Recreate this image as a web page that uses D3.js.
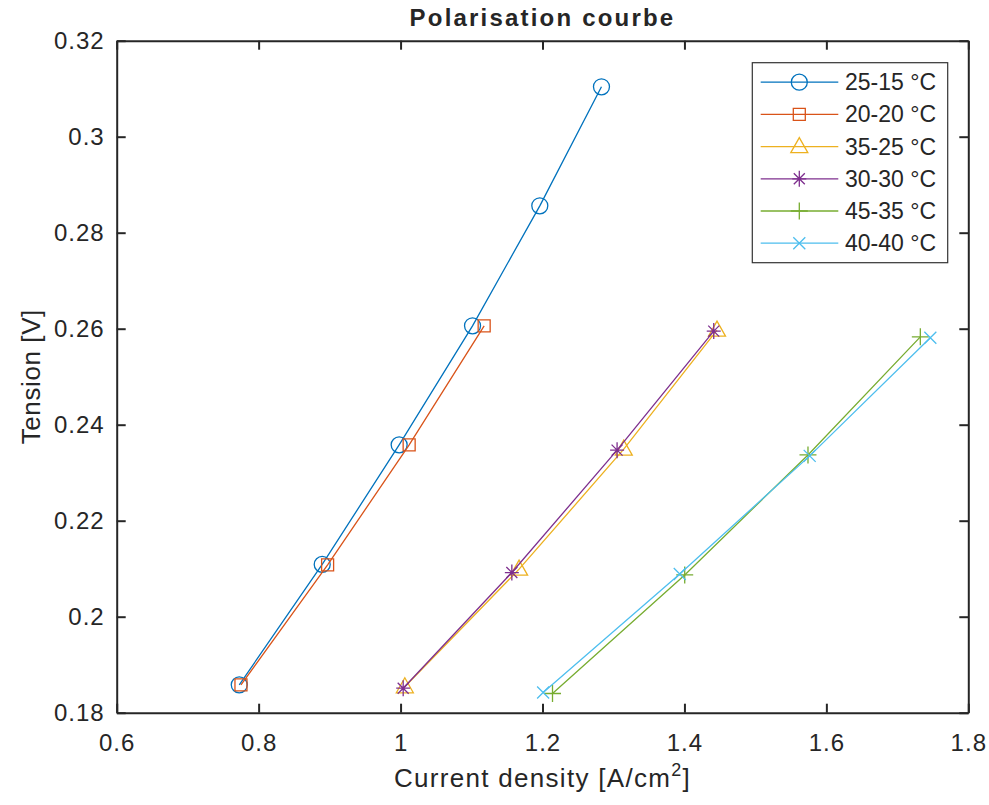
<!DOCTYPE html>
<html>
<head>
<meta charset="utf-8">
<script src="https://cdn.jsdelivr.net/npm/d3@7"></script>
<style>
  body { margin: 0; background: #fff; }
  text { font-family: "Liberation Sans", Arial, sans-serif; fill: #262626; }
</style>
</head>
<body>
<div id="chart"></div>
<script>
const width = 989;
const height = 805;
const marginTop = 40.7;
const marginRight = 20.7;
const marginBottom = 92.3;
const marginLeft = 116.7;

// Data
const seriesNames = ['25-15 °C', '20-20 °C', '35-25 °C', '30-30 °C', '45-35 °C', '40-40 °C'];
const colors = ['#0072BD', '#D95319', '#EDB120', '#7E2F8E', '#77AC30', '#4DBEEE'];
const markers = ['circle', 'square', 'triangle', 'asterisk', 'plus', 'cross'];

const x2515 = [0.7727, 0.8896, 0.998, 1.1014, 1.1962, 1.2831];
const y2515 = [0.1858, 0.2109, 0.2358, 0.2606, 0.2856, 0.3104];
const x2020 = [0.7751, 0.8972, 1.0121, 1.1178];
const y2020 = [0.1858, 0.2108, 0.2358, 0.2606];
const x3525 = [1.006, 1.167, 1.3145, 1.4459];
const y3525 = [0.1854, 0.2099, 0.2349, 0.2597];
const x3030 = [1.0037, 1.1568, 1.3051, 1.4413];
const y3030 = [0.1851, 0.2092, 0.2347, 0.2595];
const x4535 = [1.2141, 1.4004, 1.5741, 1.7324];
const y4535 = [0.184, 0.2087, 0.2337, 0.2583];
const x4040 = [1.2009, 1.3934, 1.5765, 1.7465];
const y4040 = [0.1842, 0.2089, 0.2335, 0.2581];

const xTicks = [0.6, 0.8, 1, 1.2, 1.4, 1.6, 1.8];
const yTicks = [0.18, 0.2, 0.22, 0.24, 0.26, 0.28, 0.3, 0.32];

const xs = [x2515, x2020, x3525, x3030, x4535, x4040];
const ys = [y2515, y2020, y3525, y3030, y4535, y4040];
const series = seriesNames.map((name, i) => ({
  name, color: colors[i], marker: markers[i],
  points: xs[i].map((v, j) => ({ x: v, y: ys[i][j] }))
}));

// Scales
const x = d3.scaleLinear().domain([0.6, 1.8]).range([marginLeft, width - marginRight]);
const y = d3.scaleLinear().domain([0.18, 0.32]).range([height - marginBottom, marginTop]);

const svg = d3.select('#chart')
  .append('svg')
  .attr('width', width)
  .attr('height', height);

// Marker paths (MATLAB style, hollow)
function markerPath(type) {
  switch (type) {
    case 'circle': return d3.arc()({ innerRadius: 0, outerRadius: 8, startAngle: 0, endAngle: 2 * Math.PI });
    case 'square': return 'M-6,-6H6V6H-6Z';
    case 'triangle': return 'M0,-9L8.5,6L-8.5,6Z';
    case 'asterisk': return 'M0,-8V8M-7,0H7M-5.5,-5.5L5.5,5.5M-5.5,5.5L5.5,-5.5';
    case 'plus': return 'M0,-8.5V8.5M-8.5,0H8.5';
    case 'cross': return 'M-6,-6L6,6M-6,6L6,-6';
  }
}

const line = d3.line().x(d => x(d.x)).y(d => y(d.y));

// Lines and markers
const g = svg.selectAll('.series')
  .data(series)
  .enter()
  .append('g')
  .attr('class', 'series');

g.append('path')
  .attr('d', d => line(d.points))
  .attr('fill', 'none')
  .attr('stroke', d => d.color)
  .attr('stroke-width', 1.3);

g.each(function (s) {
  d3.select(this).selectAll('.mk')
    .data(s.points)
    .enter()
    .append('path')
    .attr('class', 'mk')
    .attr('transform', d => `translate(${x(d.x)},${y(d.y)})`)
    .attr('d', markerPath(s.marker))
    .attr('fill', 'none')
    .attr('stroke', s.color)
    .attr('stroke-width', 1.3);
});

// Axes (box with mirrored ticks)
const axisColor = '#262626';
function styleAxis(sel) {
  sel.select('.domain').attr('stroke', axisColor).attr('stroke-width', 2);
  sel.selectAll('.tick line').attr('stroke', axisColor).attr('stroke-width', 2);
  sel.selectAll('.tick text')
    .style('font-size', '24px')
    .style('letter-spacing', '1px')
    .attr('fill', axisColor);
}

svg.append('g')
  .attr('transform', `translate(0,${height - marginBottom})`)
  .call(d3.axisBottom(x).tickValues(xTicks).tickSize(-9).tickSizeOuter(0).tickPadding(21).tickFormat(d3.format('')))
  .call(styleAxis);

svg.append('g')
  .attr('transform', `translate(0,${marginTop})`)
  .call(d3.axisTop(x).tickValues(xTicks).tickSize(-9).tickSizeOuter(0).tickFormat(''))
  .call(styleAxis);

svg.append('g')
  .attr('transform', `translate(${marginLeft},0)`)
  .call(d3.axisLeft(y).tickValues(yTicks).tickSize(-9).tickSizeOuter(0).tickPadding(12).tickFormat(d3.format('')))
  .call(styleAxis);

svg.append('g')
  .attr('transform', `translate(${width - marginRight},0)`)
  .call(d3.axisRight(y).tickValues(yTicks).tickSize(-9).tickSizeOuter(0).tickFormat(''))
  .call(styleAxis);

// Title
svg.append('text')
  .attr('x', (marginLeft + width - marginRight) / 2)
  .attr('y', 26)
  .attr('text-anchor', 'middle')
  .style('font-size', '24px')
  .style('font-weight', 'bold')
  .style('letter-spacing', '2.2px')
  .attr('fill', '#000')
  .text('Polarisation courbe');

// X axis label
const xl = svg.append('text')
  .attr('x', (marginLeft + width - marginRight) / 2)
  .attr('y', 787)
  .attr('text-anchor', 'middle')
  .style('font-size', '26px')
  .style('letter-spacing', '1.3px');
xl.append('tspan').text('Current density [A/cm');
xl.append('tspan').attr('dy', -11).style('font-size', '18px').text('2');
xl.append('tspan').attr('dy', 11).text(']');

// Y axis label
svg.append('text')
  .attr('transform', 'rotate(-90)')
  .attr('x', -(marginTop + height - marginBottom) / 2)
  .attr('y', 40)
  .attr('text-anchor', 'middle')
  .style('font-size', '26px')
  .style('letter-spacing', '0.6px')
  .text('Tension [V]');

// Legend
const legX = 752.3, legY = 62.7, legW = 195.4, legH = 200, rowH = 32.2;
const legend = svg.append('g');
legend.append('rect')
  .attr('x', legX).attr('y', legY)
  .attr('width', legW).attr('height', legH)
  .attr('fill', '#fff')
  .attr('stroke', '#333')
  .attr('stroke-width', 1.2);

const rows = legend.selectAll('.row')
  .data(series)
  .enter()
  .append('g')
  .attr('class', 'row')
  .attr('transform', (d, i) => `translate(${legX},${legY + 19.5 + i * rowH})`);

rows.append('line')
  .attr('x1', 8.4).attr('x2', 86)
  .attr('stroke', d => d.color)
  .attr('stroke-width', 1.3);

rows.append('path')
  .attr('transform', 'translate(47,0)')
  .attr('d', d => markerPath(d.marker))
  .attr('fill', 'none')
  .attr('stroke', d => d.color)
  .attr('stroke-width', 1.3);

rows.append('text')
  .attr('x', 92.7)
  .attr('dy', '0.35em')
  .style('font-size', '23px')
  .attr('fill', '#000')
  .text(d => d.name);
</script>
</body>
</html>
